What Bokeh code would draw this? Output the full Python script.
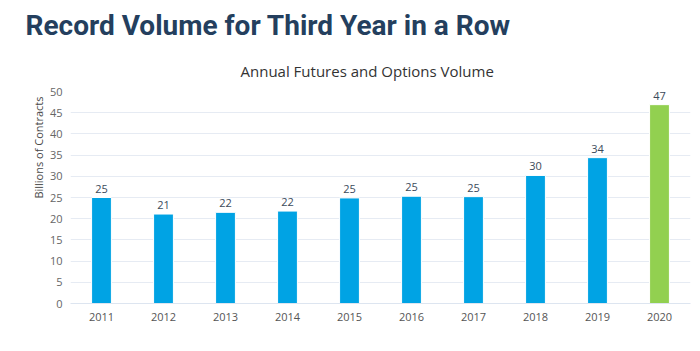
from bokeh.plotting import figure
from bokeh.models import Title, ColumnDataSource, LabelSet
from bokeh.embed import file_html
from bokeh.resources import INLINE
from bokeh.core.properties import value

years = ["2011", "2012", "2013", "2014", "2015", "2016", "2017", "2018", "2019", "2020"]
volumes = [25.0, 21.1, 21.5, 21.8, 24.9, 25.3, 25.2, 30.2, 34.4, 46.9]
bar_labels = ["25", "21", "22", "22", "25", "25", "25", "30", "34", "47"]
colors = ["#00a3e4"] * 9 + ["#92d050"]

title_text = "Record Volume for Third Year in a Row"
subtitle_text = "Annual Futures and Options Volume"
y_label = "Billions of Contracts"

src = ColumnDataSource(dict(year=years, vol=volumes, lab=bar_labels, color=colors))

p = figure(width=700, height=351, x_range=years, y_range=(0, 50),
           output_backend="svg", toolbar_location=None,
           min_border_left=70, min_border_right=10, min_border_bottom=48,
           outline_line_color=None, background_fill_color="white",
           border_fill_color="white")

p.vbar(x="year", top="vol", width=0.32, source=src, fill_color="color",
       line_color="white", line_width=1)

labels = LabelSet(x="year", y="vol", text="lab", source=src, y_offset=5,
                  text_align="center", text_baseline="bottom",
                  text_font=value("Open Sans"), text_font_size="11px",
                  text_color="#3b4a5a")
p.add_layout(labels)

sub = Title(text=subtitle_text, align="left", text_font="Open Sans",
            text_font_size="15px", text_font_style="normal", text_color="#333333",
            standoff=22, offset=170)
p.add_layout(sub, "above")
main = Title(text=title_text, align="left", text_font="Roboto",
             text_font_size="28px", text_font_style="bold", text_color="#243f5e",
             offset=-45, standoff=12)
p.add_layout(main, "above")

p.yaxis.ticker = list(range(0, 51, 5))
p.yaxis.axis_line_color = None
p.yaxis.major_tick_line_color = None
p.yaxis.major_tick_out = 0
p.yaxis.major_tick_in = 0
p.yaxis.minor_tick_line_color = None
p.yaxis.major_label_text_font = "Open Sans"
p.yaxis.major_label_text_font_size = "11px"
p.yaxis.major_label_text_color = "#666666"
p.yaxis.major_label_standoff = 8

ytitle = Title(text=y_label, align="right", text_font="Open Sans",
               text_font_size="11px", text_font_style="normal", text_color="#4a4a4a",
               standoff=1, offset=5)
p.add_layout(ytitle, "left")

p.xaxis.axis_line_color = "#dde5f0"
p.xaxis.major_tick_line_color = None
p.xaxis.major_tick_out = 0
p.xaxis.major_tick_in = 0
p.xaxis.minor_tick_line_color = None
p.xaxis.major_label_text_font = "Open Sans"
p.xaxis.major_label_text_font_size = "11px"
p.xaxis.major_label_text_color = "#555555"
p.xaxis.major_label_standoff = 9

p.xgrid.grid_line_color = None
p.ygrid.grid_line_color = "#e6ebf3"
p.ygrid.grid_line_width = 1

open("out.html", "w").write(file_html(p, INLINE))
